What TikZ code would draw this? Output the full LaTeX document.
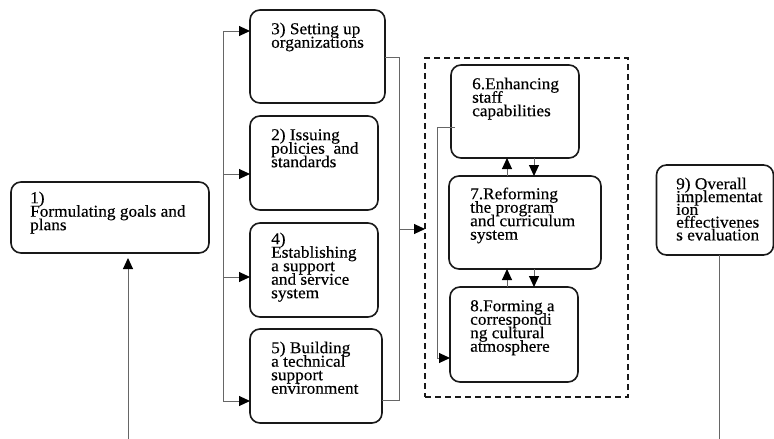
\documentclass[tikz,border=0pt]{standalone}
\usepackage{fontspec}
\setmainfont{Liberation Serif}[FakeStretch=1.04,FakeBold=0.35]
\usetikzlibrary{arrows.meta}
\newcommand\lnup{\rule{0pt}{12pt}}
\newcommand\tightlines{\lineskiplimit=-30pt\relax}
\begin{document}
\begin{tikzpicture}[x=1pt,y=-1pt,
  box/.style={draw=black!90, line width=1.6pt, rounded corners=10pt, inner sep=0pt, outer sep=0pt},
  frame/.style={draw=black!90, line width=1.8pt, dash pattern=on 6pt off 4pt, inner sep=0pt, outer sep=0pt},
  txt/.style={anchor=north west, inner sep=0pt, align=left, text=black,
    font=\fontsize{16.6pt}{13.5pt}\selectfont, execute at begin node=\tightlines},
  conn/.style={draw=black!60, line width=1pt},
  arrow/.style={conn, -{Triangle[length=11pt,width=10pt,color=black,fill=black]}}]
\useasboundingbox (0,0) rectangle (774,439);

% boxes
\node[box, minimum width=198pt, minimum height=71pt] (b1) at (110,217.5) {};
\node[box, minimum width=135pt, minimum height=93pt] (b3) at (317.5,56.5) {};
\node[box, minimum width=128pt, minimum height=94pt] (b2) at (314,163) {};
\node[box, minimum width=128pt, minimum height=94pt] (b4) at (314,270) {};
\node[box, minimum width=132pt, minimum height=94pt] (b5) at (316,376) {};
\node[frame, minimum width=203pt, minimum height=339pt] (fr) at (526.5,227.5) {};
\node[box, minimum width=128pt, minimum height=93pt] (b6) at (515,111.5) {};
\node[box, minimum width=152pt, minimum height=93pt] (b7) at (525,222.5) {};
\node[box, minimum width=128pt, minimum height=95pt] (b8) at (514,334.5) {};
\node[box, minimum width=117pt, minimum height=90pt] (b9) at (715,210) {};

% texts
\node[txt] (t1) at (30,191) {\lnup 1)\\Formulating goals and\\plans};
\node[txt] (t3) at (271,22) {\lnup 3) Setting up\\organizations};
\node[txt] (t2) at (271,128) {\lnup 2) Issuing\\policies \ and\\standards};
\node[txt] (t4) at (271,232) {\lnup 4)\\Establishing\\a support\\and service\\system};
\node[txt] (t5) at (271,341) {\lnup 5) Building\\a technical\\support\\environment};
\node[txt] (t6) at (472,77) {\lnup 6.Enhancing\\staff\\capabilities};
\node[txt] (t7) at (470,187) {\lnup 7.Reforming\\the program\\and curriculum\\system};
\node[txt] (t8) at (470,299) {\lnup 8.Forming a\\correspondi\\ng cultural\\atmosphere};
\node[txt, font=\fontsize{16.6pt}{12.8pt}\selectfont] (t9) at (676,177)
  {\lnup 9) Overall\\implementat\\ion\\effectivenes\\s evaluation};

% input arrow to goals
\coordinate (s1) at (128,439);
\draw[arrow, shorten >=5pt] (s1) -- (s1 |- b1.south);

% left distribution bus
\coordinate (l3) at (223,31);
\coordinate (l2) at (223,174);
\coordinate (l4) at (223,277);
\coordinate (l5) at (223,401);
\draw[conn] (l3) -- (l5);
\draw[arrow] (l3) -- (l3 -| b3.west);
\draw[arrow] (l2) -- (l2 -| b2.west);
\draw[arrow] (l4) -- (l4 -| b4.west);
\draw[arrow] (l5) -- (l5 -| b5.west);

% right collecting bus
\coordinate (r3) at (399,57);
\coordinate (r5) at (399,400);
\coordinate (rm) at (399,229);
\draw[conn] (r3 -| b3.east) -- (r3) -- (r5) -- (r5 -| b5.east);
\draw[arrow] (rm) -- (rm -| fr.west);

% two-way links inside the frame
\coordinate (up) at (507,0);
\coordinate (dn) at (534,0);
\draw[arrow] (up |- b7.north) -- (up |- b6.south);
\draw[arrow] (dn |- b6.south) -- (dn |- b7.north);
\draw[arrow] (up |- b8.north) -- (up |- b7.south);
\draw[arrow] (dn |- b7.south) -- (dn |- b8.north);

% feedback loop from 6 to 8
\coordinate (lp) at (437,127);
\coordinate (lq) at (437,358);
\draw[arrow] ([xshift=4pt]lp -| b6.west) -- (lp) -- (lq) -- (lq -| b8.west);

% evaluation output
\coordinate (s9) at (719,439);
\draw[conn] (s9 |- b9.south) -- (s9);
\end{tikzpicture}
\end{document}
